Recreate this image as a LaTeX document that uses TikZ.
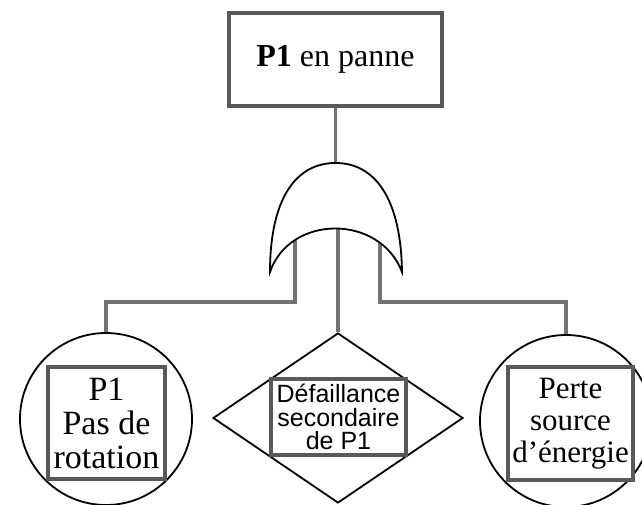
\documentclass[tikz,border=0pt]{standalone}
\usepackage{fontspec}
\setmainfont{Liberation Serif}
\newfontfamily\sansfam{Liberation Sans}
\usetikzlibrary{shapes.geometric}
\begin{document}
\begin{tikzpicture}[x=1pt,y=-1pt,
  wire/.style={draw=black!55, line width=3.2pt},
  frame/.style={draw=black!65, line width=3.2pt, inner sep=0pt, align=center, fill=white},
  outline/.style={draw=black, line width=1.8pt},
]
\useasboundingbox (0,0) rectangle (642,505);

% top event
\node[frame, minimum width=213pt, minimum height=93pt,
      font=\fontsize{32}{32}\selectfont] (top) at (335.5,59.5) {\textbf{P1} en panne};

% OR gate anchors
\coordinate (gtop) at (335.5,163);
\coordinate (in1) at (295,237);
\coordinate (in2) at (338,227);
\coordinate (in3) at (380,239);

% basic events
\node[outline, circle, minimum size=172pt, inner sep=0pt] (c1) at (106,419) {};
\node[frame, minimum width=117pt, minimum height=112pt,
      font=\fontsize{34}{34}\selectfont] (e1) at (106.5,423) {P1\\Pas de\\rotation};

\node[outline, diamond, minimum width=250pt, minimum height=170pt, inner sep=0pt] (d) at (338,418) {};
\node[frame, minimum width=135pt, minimum height=76pt,
      font=\sansfam\fontsize{25}{23.5}\selectfont] (e2) at (338.5,417) {Défaillance\\secondaire\\de P1};

\node[outline, circle, minimum size=172pt, inner sep=0pt] (c3) at (566,421) {};
\node[frame, minimum width=125pt, minimum height=113pt,
      font=\fontsize{31}{32}\selectfont] (e3) at (570.5,423.5) {Perte\\source\\d'énergie};

% connectors
\draw[wire] (top.south) -- (gtop);
\draw[wire] (in1) -- ++(0,65) -| (c1.north);
\draw[wire] (in2) -- (d.north);
\draw[wire] (in3) -- ++(0,63) -| (c3.north);

% OR gate body
\draw[outline, fill=white] (270,272) .. controls (270,200) and (295,163) .. (gtop)
  .. controls (376,163) and (401,200) .. (402,272)
  .. controls (380,214) and (290,214) .. cycle;
\end{tikzpicture}
\end{document}
